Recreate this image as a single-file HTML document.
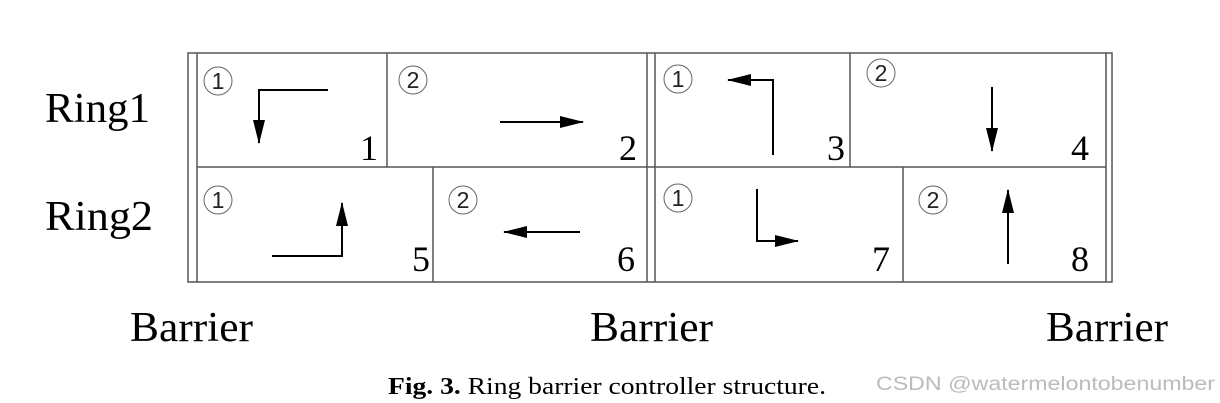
<!DOCTYPE html>
<html><head><meta charset="utf-8"><style>html,body{margin:0;padding:0;background:#fff}svg{display:block}</style></head>
<body>
<svg width="1220" height="403" viewBox="0 0 1220 403" xmlns="http://www.w3.org/2000/svg">
<defs>
<marker id="b" markerWidth="24" markerHeight="12" refX="23" refY="6" orient="auto" markerUnits="userSpaceOnUse">
<path d="M0,0 L24,6 L0,12 z" fill="#000"/></marker>
</defs>
<g fill="none" stroke="#555" stroke-width="1.5">
<rect x="188" y="53" width="924" height="229"/>
<line x1="197" y1="53" x2="197" y2="282"/>
<line x1="647" y1="53" x2="647" y2="282"/>
<line x1="655" y1="53" x2="655" y2="282"/>
<line x1="1106" y1="53" x2="1106" y2="282"/>
<line x1="197" y1="167" x2="1106" y2="167"/>
<line x1="387" y1="53" x2="387" y2="167"/>
<line x1="850" y1="53" x2="850" y2="167"/>
<line x1="433" y1="167" x2="433" y2="282"/>
<line x1="903" y1="167" x2="903" y2="282"/>
</g>
<g fill="none" stroke="#000" stroke-width="2">
<polyline points="328,90 259,90 259,143" marker-end="url(#b)"/>
<line x1="500" y1="122" x2="583" y2="122" marker-end="url(#b)"/>
<polyline points="272,256 342,256 342,203" marker-end="url(#b)"/>
<line x1="580" y1="232" x2="504" y2="232" marker-end="url(#b)"/>
<polyline points="773,155 773,80 728,80" marker-end="url(#b)"/>
<line x1="992" y1="87" x2="992" y2="151" marker-end="url(#b)"/>
<polyline points="757,189 757,241 798,241" marker-end="url(#b)"/>
<line x1="1008" y1="264" x2="1008" y2="190" marker-end="url(#b)"/>
</g>
<g fill="none" stroke="#666" stroke-width="1">
<circle cx="218" cy="81" r="14"/><circle cx="413" cy="80" r="14"/>
<circle cx="218" cy="200" r="14"/><circle cx="463" cy="200" r="14"/>
<circle cx="678" cy="79" r="14"/><circle cx="881" cy="73" r="14"/>
<circle cx="678" cy="198" r="14"/><circle cx="933" cy="200" r="14"/>
</g>
<g font-family="Liberation Sans, sans-serif" font-size="23" fill="#222" text-anchor="middle">
<text x="218" y="89">1</text><text x="413" y="88">2</text>
<text x="218" y="208">1</text><text x="463" y="208">2</text>
<text x="678" y="87">1</text><text x="881" y="81">2</text>
<text x="678" y="206">1</text><text x="933" y="208">2</text>
</g>
<g font-family="Liberation Serif, serif" font-size="36" fill="#000" text-anchor="end">
<text x="378" y="160">1</text><text x="637" y="160">2</text>
<text x="845" y="160">3</text><text x="1089" y="160">4</text>
<text x="430" y="271">5</text><text x="635" y="271">6</text>
<text x="890" y="271">7</text><text x="1089" y="271">8</text>
</g>
<g font-family="Liberation Serif, serif" font-size="42" fill="#000">
<text x="45" y="122" textLength="105" lengthAdjust="spacingAndGlyphs">Ring1</text>
<text x="45" y="230" textLength="108" lengthAdjust="spacingAndGlyphs">Ring2</text>
<text x="130" y="341" textLength="123" lengthAdjust="spacingAndGlyphs">Barrier</text>
<text x="590" y="341" textLength="123" lengthAdjust="spacingAndGlyphs">Barrier</text>
<text x="1046" y="341" textLength="122" lengthAdjust="spacingAndGlyphs">Barrier</text>
</g>
<text x="388" y="394" font-family="Liberation Serif, serif" font-size="24" fill="#000" textLength="438" lengthAdjust="spacingAndGlyphs"><tspan font-weight="bold">Fig. 3.</tspan> Ring barrier controller structure.</text>
<text x="876" y="390" font-family="Liberation Sans, sans-serif" font-size="19" fill="#bbb" textLength="339" lengthAdjust="spacingAndGlyphs">CSDN @watermelontobenumber</text>
</svg>
</body></html>
